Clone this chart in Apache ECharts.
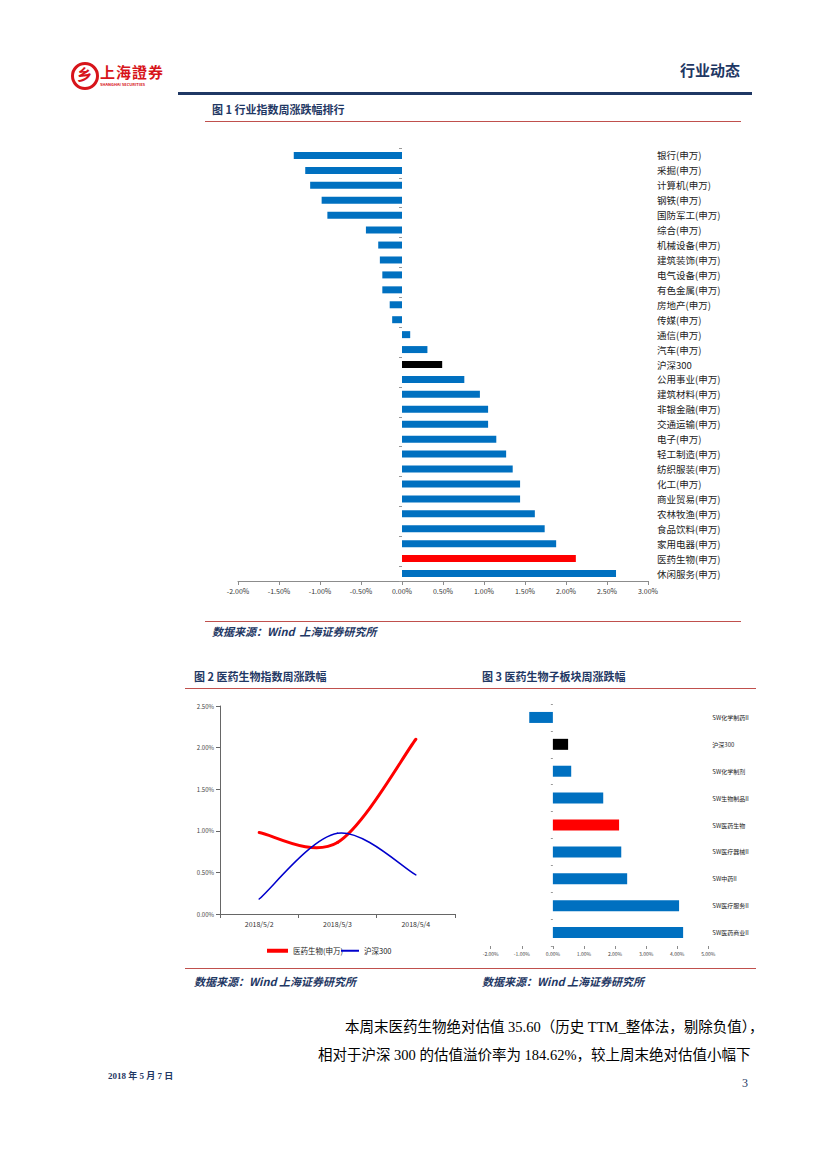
<!DOCTYPE html>
<html><head><meta charset="utf-8">
<script src="https://cdn.jsdelivr.net/npm/echarts@6/dist/echarts.min.js"></script>
<style>
html,body{margin:0;padding:0;background:#fff;}
#page{position:relative;width:827px;height:1169px;overflow:hidden;font-family:"Noto Sans CJK SC","Noto Sans",sans-serif;}
.t{position:absolute;white-space:nowrap;line-height:1;}
.ln{position:absolute;}
.ttl{font-size:11px;font-weight:bold;color:#1F3864;}
.src{font-size:11px;font-weight:bold;font-style:italic;color:#1F3864;}
.body{font-size:14.5px;color:#000;font-family:"Liberation Serif","Noto Sans CJK SC",serif;}
#chart{position:absolute;left:0;top:0;width:827px;height:1169px;}
</style></head>
<body><div id="page">
<div id="chart"></div>
<!-- header -->
<div class="ln" style="left:71px;top:62px;width:22px;height:22px;border:3px solid #D7141A;border-radius:50%;"></div>
<div class="t" style="left:77px;top:66px;font-size:15px;font-weight:bold;color:#D7141A;">乡</div>
<div class="t" style="left:100px;top:64px;font-size:15px;font-weight:bold;color:#D7141A;letter-spacing:1px;">上海證券</div>
<div class="t" style="left:100px;top:82px;font-size:4px;font-weight:bold;color:#D7141A;">SHANGHAI SECURITIES</div>
<div class="t" style="left:680px;top:62px;font-size:15px;font-weight:bold;color:#1F3864;">行业动态</div>
<div class="ln" style="left:178px;top:92px;width:574px;height:3px;background:#1F3864;"></div>
<!-- fig1 -->
<div class="t ttl" style="left:212px;top:104px;">图 1 行业指数周涨跌幅排行</div>
<div class="ln" style="left:205px;top:121px;width:536px;height:1px;background:#C0504D;"></div>
<div class="ln" style="left:205px;top:621px;width:536px;height:1px;background:#C0504D;"></div>
<div class="t src" style="left:212px;top:626px;">数据来源：Wind &nbsp;上海证券研究所</div>
<!-- fig2/3 -->
<div class="t ttl" style="left:194px;top:671px;">图 2 医药生物指数周涨跌幅</div>
<div class="t ttl" style="left:482px;top:671px;">图 3 医药生物子板块周涨跌幅</div>
<div class="ln" style="left:185px;top:688px;width:571px;height:1px;background:#C0504D;"></div>
<div class="ln" style="left:185px;top:968px;width:571px;height:1px;background:#C0504D;"></div>
<div class="t src" style="left:194px;top:976px;">数据来源：Wind 上海证券研究所</div>
<div class="t src" style="left:482px;top:976px;">数据来源：Wind 上海证券研究所</div>
<!-- body -->
<div class="t body" style="left:345px;top:1020px;">本周末医药生物绝对估值 35.60（历史 TTM_整体法，剔除负值），</div>
<div class="t body" style="left:318px;top:1048px;">相对于沪深 300 的估值溢价率为 184.62%，较上周末绝对估值小幅下</div>
<div class="t" style="left:108px;top:1072px;font-size:9px;font-weight:bold;color:#1F3864;font-family:'Liberation Serif','Noto Sans CJK SC',serif;">2018 年 5 月 7 日</div>
<div class="t" style="left:742px;top:1077px;font-size:12px;color:#1F3864;font-family:'Liberation Serif',serif;">3</div>
</div>
<script>
// ---- data ----
const cat1 = ['银行(申万)','采掘(申万)','计算机(申万)','钢铁(申万)','国防军工(申万)','综合(申万)','机械设备(申万)','建筑装饰(申万)','电气设备(申万)','有色金属(申万)','房地产(申万)','传媒(申万)','通信(申万)','汽车(申万)','沪深300','公用事业(申万)','建筑材料(申万)','非银金融(申万)','交通运输(申万)','电子(申万)','轻工制造(申万)','纺织服装(申万)','化工(申万)','商业贸易(申万)','农林牧渔(申万)','食品饮料(申万)','家用电器(申万)','医药生物(申万)','休闲服务(申万)'];
const val1 = [-1.32,-1.18,-1.12,-0.98,-0.91,-0.44,-0.29,-0.27,-0.24,-0.24,-0.15,-0.12,0.10,0.31,0.49,0.76,0.95,1.05,1.05,1.15,1.27,1.35,1.44,1.44,1.62,1.74,1.88,2.12,2.61];

const dates2 = ['2018/5/2','2018/5/3','2018/5/4'];
const med2 = [0.98,0.86,2.10];
const hs2 = [0.18,0.97,0.47];
const legend2 = ['医药生物(申万)','沪深300'];

const cat3 = ['SW化学制药II','沪深300','SW化学制剂','SW生物制品II','SW医药生物','SW医疗器械II','SW中药II','SW医疗服务II','SW医药商业II'];
const val3 = [-0.76,0.49,0.59,1.62,2.13,2.20,2.39,4.06,4.19];

// ---- chart ----
const chart = echarts.init(document.getElementById('chart'), null, {renderer:'svg'});
const pct = v => v.toFixed(2) + '%';
const barColor = name => name === '沪深300' ? '#000000' : (name.indexOf('医药生物') >= 0 ? '#FF0000' : '#0070C0');
const FONT = '"Noto Sans CJK SC", sans-serif';
const axisGray = '#8C8C8C';

// spreadsheet-style smoothed curve through the data points (Catmull-Rom bezier)
function curveRender(arr, color, width) {
  return function (params, api) {
    if (params.dataIndex !== 0) return null;
    const pts = arr.map((v, i) => api.coord([i, v]));
    const children = [];
    for (let i = 0; i < pts.length - 1; i++) {
      const p0 = pts[Math.max(i - 1, 0)], p1 = pts[i], p2 = pts[i + 1], p3 = pts[Math.min(i + 2, pts.length - 1)];
      children.push({
        type: 'bezierCurve',
        shape: {
          x1: p1[0], y1: p1[1], x2: p2[0], y2: p2[1],
          cpx1: p1[0] + (p2[0] - p0[0]) / 6, cpy1: p1[1] + (p2[1] - p0[1]) / 6,
          cpx2: p2[0] - (p3[0] - p1[0]) / 6, cpy2: p2[1] - (p3[1] - p1[1]) / 6
        },
        style: {fill: 'none', stroke: color, lineWidth: width, lineCap: 'round'}
      });
    }
    return {type: 'group', children: children};
  };
}

chart.setOption({
  animation:false,
  textStyle:{fontFamily:FONT},
  grid:[
    {left:238, top:148, width:410, height:433, outerBoundsMode:'none'},
    {left:220, top:706, width:235, height:208, outerBoundsMode:'none'},
    {left:490.7, top:704, width:217.6, height:242, outerBoundsMode:'none'}
  ],
  xAxis:[
    {gridIndex:0, type:'value', min:-2, max:3, interval:0.5, position:'bottom',
     axisLine:{show:true, onZero:false, lineStyle:{color:axisGray}},
     axisTick:{show:true, length:4, lineStyle:{color:axisGray}},
     splitLine:{show:false},
     axisLabel:{formatter:pct, fontSize:7, color:'#333', margin:6}},
    {gridIndex:1, type:'category', data:dates2, boundaryGap:true,
     axisLine:{show:true, onZero:false, lineStyle:{color:'#666'}},
     axisTick:{show:true, length:4, lineStyle:{color:'#666'}},
     axisLabel:{fontSize:7, color:'#333', margin:6}},
    {gridIndex:2, type:'value', min:-2, max:5, interval:1, position:'bottom',
     axisLine:{show:false, onZero:false},
     axisTick:{show:true, length:3, lineStyle:{color:axisGray}},
     splitLine:{show:false},
     axisLabel:{formatter:pct, fontSize:5, color:'#444', margin:5}}
  ],
  yAxis:[
    {gridIndex:0, type:'category', data:cat1, inverse:true,
     axisLine:{show:true, onZero:true, lineStyle:{color:'rgba(0,0,0,0)'}},
     axisTick:{show:true, length:3, lineStyle:{color:'#999'}},
     axisLabel:{show:false}},
    {gridIndex:0, type:'category', data:cat1, inverse:true, position:'right',
     axisLine:{show:false, onZero:false}, axisTick:{show:false},
     axisLabel:{fontSize:9.5, color:'#222', margin:9}},
    {gridIndex:1, type:'value', min:0, max:2.5, interval:0.5,
     axisLine:{show:true, lineStyle:{color:'#666'}},
     axisTick:{show:true, length:4, lineStyle:{color:'#666'}},
     splitLine:{show:false},
     axisLabel:{formatter:pct, fontSize:6, color:'#444', margin:6}},
    {gridIndex:2, type:'category', data:cat3, inverse:true,
     axisLine:{show:true, onZero:true, lineStyle:{color:'rgba(0,0,0,0)'}},
     axisTick:{show:true, length:2, lineStyle:{color:'#999'}},
     axisLabel:{show:false}},
    {gridIndex:2, type:'category', data:cat3, inverse:true, position:'right',
     axisLine:{show:false, onZero:false}, axisTick:{show:false},
     axisLabel:{fontSize:6, color:'#222', margin:4}}
  ],
  legend:[
    {data:[legend2[0]], left:262, top:942, icon:'rect', itemWidth:21, itemHeight:4, itemGap:4,
     textStyle:{fontSize:7.5, color:'#222'}},
    {data:[legend2[1]], left:336, top:942, icon:'rect', itemWidth:18, itemHeight:2, itemGap:4,
     textStyle:{fontSize:7.5, color:'#222'}}
  ],
  series:[
    {type:'bar', xAxisIndex:0, yAxisIndex:0, data:val1, barWidth:7,
     itemStyle:{color:p => barColor(cat1[p.dataIndex])}},
    {type:'custom', name:legend2[0], xAxisIndex:1, yAxisIndex:2,
     data:med2.map((v, i) => [i, v]), renderItem:curveRender(med2, '#FF0000', 3),
     itemStyle:{color:'#FF0000'}},
    {type:'custom', name:legend2[1], xAxisIndex:1, yAxisIndex:2,
     data:hs2.map((v, i) => [i, v]), renderItem:curveRender(hs2, '#0000CC', 1.5),
     itemStyle:{color:'#0000CC'}},
    {type:'bar', xAxisIndex:2, yAxisIndex:3, data:val3, barWidth:11,
     itemStyle:{color:p => barColor(cat3[p.dataIndex])}}
  ]
});
</script>
</body></html>
